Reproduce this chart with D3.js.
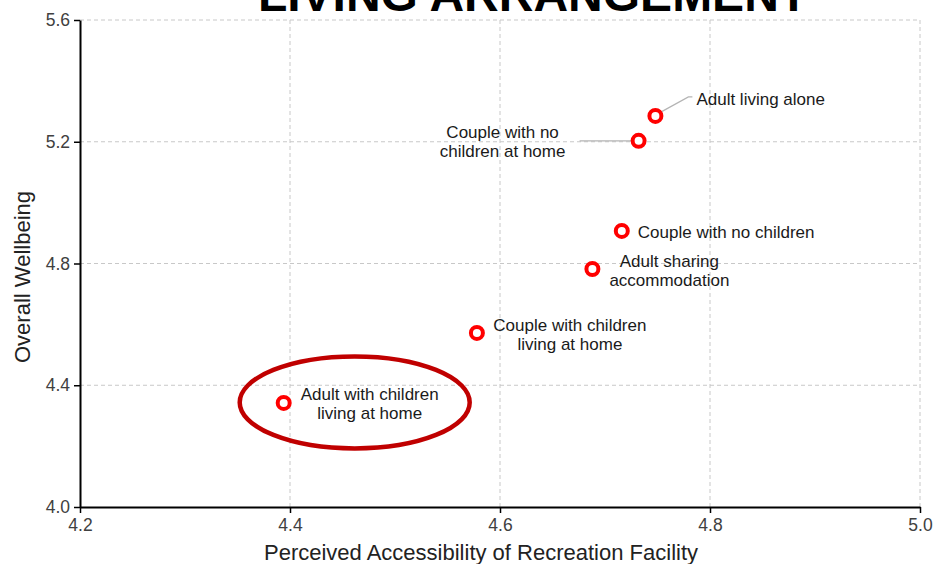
<!DOCTYPE html>
<html>
<head>
<meta charset="utf-8">
<script src="https://cdn.jsdelivr.net/npm/d3@7"></script>
<style>
  html, body { margin: 0; padding: 0; background: #fff; }
  svg { display: block; font-family: Arial, "Liberation Sans", sans-serif; }
</style>
</head>
<body>
<svg id="chart" width="935" height="564"></svg>
<script>
// ---- data ----
const categories = [
  "Adult living alone",
  "Couple with no children at home",
  "Couple with no children",
  "Adult sharing accommodation",
  "Couple with children living at home",
  "Adult with children living at home"
];
const accessibility = [4.748, 4.732, 4.716, 4.688, 4.578, 4.394];
const wellbeing     = [5.285, 5.203, 4.907, 4.782, 4.572, 4.342];
const labelLines = [
  ["Adult living alone"],
  ["Couple with no", "children at home"],
  ["Couple with no children"],
  ["Adult sharing", "accommodation"],
  ["Couple with children", "living at home"],
  ["Adult with children", "living at home"]
];
const xTicks = [4.2, 4.4, 4.6, 4.8, 5.0];
const yTicks = [4.0, 4.4, 4.8, 5.2, 5.6];
const titleText = "LIVING ARRANGEMENT";
const xTitle = "Perceived Accessibility of Recreation Facility";
const yTitle = "Overall Wellbeing";
const highlighted = "Adult with children living at home";

// ---- layout (label placement relative to each point) ----
const labelLayout = [
  {dx: 41, dy: -17, anchor: "start", leader: [[4, -3], [33, -19], [37, -19]]},
  {dx: -136, dy: -9, anchor: "middle", leader: [[-6, 0], [-59, 0]]},
  {dx: 16, dy: 1, anchor: "start"},
  {dx: 77, dy: -8, anchor: "middle"},
  {dx: 93, dy: -8, anchor: "middle"},
  {dx: 86, dy: -9, anchor: "middle"}
];

const svg = d3.select("#chart");
const m = {left: 80, right: 15, top: 20, bottom: 57};
const W = 935, H = 564;

const x = d3.scaleLinear().domain([4.2, 5.0]).range([m.left, W - m.right]);
const y = d3.scaleLinear().domain([4.0, 5.6]).range([H - m.bottom, m.top]);

// gridlines
const grid = svg.append("g");
grid.selectAll("line.gx").data(xTicks.slice(1)).join("line")
  .attr("x1", d => x(d)).attr("x2", d => x(d))
  .attr("y1", y(4.0)).attr("y2", y(5.6))
  .attr("stroke", "#c8c8c8").attr("stroke-width", 1).attr("stroke-dasharray", "4,3");
grid.selectAll("line.gy").data(yTicks.slice(1)).join("line")
  .attr("x1", x(4.2)).attr("x2", x(5.0))
  .attr("y1", d => y(d)).attr("y2", d => y(d))
  .attr("stroke", "#c8c8c8").attr("stroke-width", 1).attr("stroke-dasharray", "4,3");

// axes
const xAxis = d3.axisBottom(x).tickValues(xTicks).tickFormat(d3.format(".1f")).tickSizeOuter(0).tickSizeInner(6).tickPadding(6);
const yAxis = d3.axisLeft(y).tickValues(yTicks).tickFormat(d3.format(".1f")).tickSizeOuter(0).tickSizeInner(6).tickPadding(4);

const gx = svg.append("g").attr("transform", `translate(0,${y(4.0)})`).call(xAxis);
const gy = svg.append("g").attr("transform", `translate(${x(4.2)},0)`).call(yAxis);
[gx, gy].forEach(g => {
  g.select(".domain").attr("stroke", "#000").attr("stroke-width", 2);
  g.selectAll(".tick line").attr("stroke", "#000").attr("stroke-width", 1.5);
  g.selectAll(".tick text").attr("fill", "#404040").style("font-size", "17.5px")
    .style("font-family", "Arial, 'Liberation Sans', sans-serif");
});

// axis titles
svg.append("text").attr("x", 481).attr("y", 560).attr("text-anchor", "middle")
  .style("font-size", "22px").attr("fill", "#222").text(xTitle);
svg.append("text").attr("transform", `translate(30,${277}) rotate(-90)`).attr("text-anchor", "middle")
  .style("font-size", "22px").attr("fill", "#222").text(yTitle);

// title (cut at top, as in the reference)
svg.append("text").attr("x", 533).attr("y", 11).attr("text-anchor", "middle")
  .style("font-size", "48px").style("font-weight", "bold").attr("fill", "#000").text(titleText);

// data
const pts = categories.map((c, i) => ({c, x: accessibility[i], y: wellbeing[i], lines: labelLines[i], L: labelLayout[i]}));

// highlight ellipse around the highlighted category
const hi = pts.find(p => p.c === highlighted);
svg.append("ellipse")
  .attr("cx", x(hi.x) + 71).attr("cy", y(hi.y) - 0.5)
  .attr("rx", 115).attr("ry", 46)
  .attr("fill", "none").attr("stroke", "#c00000").attr("stroke-width", 4.5);

// leader lines
pts.filter(p => p.L.leader).forEach(p => {
  svg.append("polyline")
    .attr("points", p.L.leader.map(([a, b]) => `${x(p.x) + a},${y(p.y) + b}`).join(" "))
    .attr("fill", "none").attr("stroke", "#b4b4b4").attr("stroke-width", 1.2);
});

// markers
svg.append("g").selectAll("circle").data(pts).join("circle")
  .attr("cx", d => x(d.x)).attr("cy", d => y(d.y)).attr("r", 6)
  .attr("fill", "#fff").attr("stroke", "#ff0000").attr("stroke-width", 4);

// labels
pts.forEach(p => {
  const t = svg.append("text")
    .attr("text-anchor", p.L.anchor)
    .style("font-size", "17px").attr("fill", "#1a1a1a");
  p.lines.forEach((ln, k) => {
    t.append("tspan")
      .attr("x", x(p.x) + p.L.dx)
      .attr("y", y(p.y) + p.L.dy + k * 19.5 + 6)
      .text(ln);
  });
});
</script>
</body>
</html>
